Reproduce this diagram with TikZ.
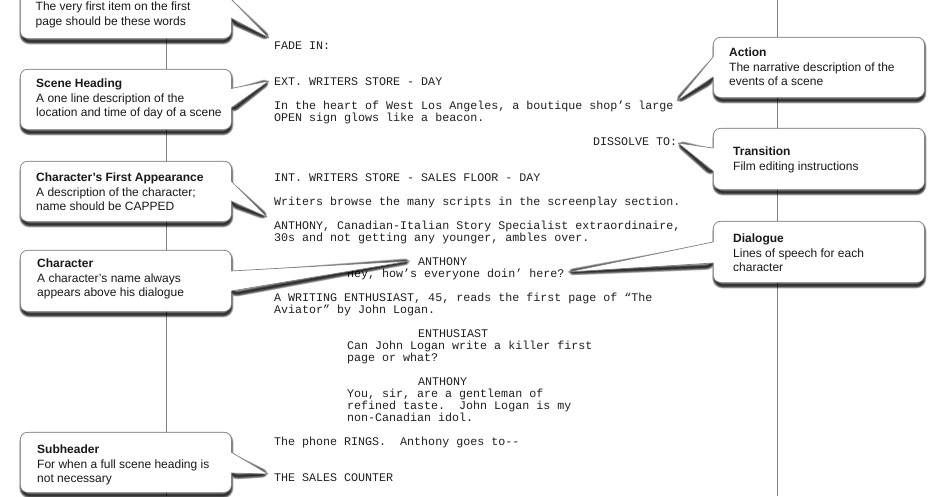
\documentclass[tikz,border=0pt]{standalone}
\usepackage{fontspec}
\setmainfont{Liberation Sans}
\newfontfamily\screenplayfont{Liberation Mono}
\pgfdeclarelayer{back}
\pgfsetlayers{back,main}
\tikzset{
  guide/.style={draw=black!50,line width=0.8pt},
  scriptline/.style={anchor=base west,inner sep=0pt,font=\fontsize{11.67}{12}\screenplayfont,text=black!88},
  calloutbox/.style={anchor=north west,draw=black!50,fill=white,line width=0.7pt,rounded corners=7pt,minimum width=211pt,inner sep=0pt},
  callouttext/.style={anchor=west,inner sep=0pt,align=left,text=black!90,font=\fontsize{12}{14.5}\selectfont},
  wedgeedge/.style={draw=black!50,line width=0.7pt,line join=round},
}
\newcommand{\shadowlayers}[1]{%
  \foreach \w in {0.3,1,1.7,2.4,3.1,3.8,4.5,5.2,5.9,6.6}{%
    \draw[black,opacity=0.17,line width=\w pt,line join=round] #1;
  }%
}
% id, (x,y), height, wedge top, wedge bottom, tip, text position, text
\newcommand{\callout}[8]{%
  \node[calloutbox,minimum height=#3 pt] (#1) at (#2) {};
  \coordinate (#1a) at (#4);
  \coordinate (#1b) at (#5);
  \coordinate (#1tip) at (#6);
  \begin{pgfonlayer}{back}
    \shadowlayers{[rounded corners=7pt] ([shift={(2.5,3)}]#1.north west) rectangle ([shift={(-1.5,2.5)}]#1.south east)
      ([shift={(0,4)}]#1a) -- ([shift={(0,0.3)}]#1tip) -- ([shift={(0,3.5)}]#1b) -- cycle}
  \end{pgfonlayer}
  \fill[white] (#1a) -- (#1tip) -- (#1b) -- cycle;
  \draw[white,line width=1.4pt] (#1a) -- (#1b);
  \draw[wedgeedge] (#1a) -- (#1tip) -- (#1b);
  \node[callouttext] (#1t) at (#7) {#8};
}
\begin{document}
\begin{tikzpicture}[x=1pt,y=-1pt]
\useasboundingbox (0,0) rectangle (944,496);
\begin{pgfonlayer}{back}
\coordinate (gl1) at (166.5,0); \coordinate (gl2) at (166.5,496);
\coordinate (gr1) at (777.5,0); \coordinate (gr2) at (777.5,496);
\draw[guide] (gl1) -- (gl2);
\draw[guide] (gr1) -- (gr2);
\node[scriptline] (s1) at (274,49) {FADE IN:};
\node[scriptline] (s2) at (274,85) {EXT. WRITERS STORE - DAY};
\node[scriptline] (s3) at (274,109) {In the heart of West Los Angeles, a boutique shop’s large};
\node[scriptline] (s4) at (274,121) {OPEN sign glows like a beacon.};
\node[scriptline] (s5) at (593,145) {DISSOLVE TO:};
\node[scriptline] (s6) at (274,181) {INT. WRITERS STORE - SALES FLOOR - DAY};
\node[scriptline] (s7) at (274,205) {Writers browse the many scripts in the screenplay section.};
\node[scriptline] (s8) at (274,229) {ANTHONY, Canadian-Italian Story Specialist extraordinaire,};
\node[scriptline] (s9) at (274,241) {30s and not getting any younger, ambles over.};
\node[scriptline] (s10) at (418,265) {ANTHONY};
\node[scriptline] (s11) at (347,277) {Hey, how’s everyone doin’ here?};
\node[scriptline] (s12) at (274,301) {A WRITING ENTHUSIAST, 45, reads the first page of “The};
\node[scriptline] (s13) at (274,313) {Aviator” by John Logan.};
\node[scriptline] (s14) at (418,337) {ENTHUSIAST};
\node[scriptline] (s15) at (347,349) {Can John Logan write a killer first};
\node[scriptline] (s16) at (347,361) {page or what?};
\node[scriptline] (s17) at (418,385) {ANTHONY};
\node[scriptline] (s18) at (347,397) {You, sir, are a gentleman of};
\node[scriptline] (s19) at (347,409) {refined taste.~~John Logan is my};
\node[scriptline] (s20) at (347,421) {non-Canadian idol.};
\node[scriptline] (s21) at (274,445) {The phone RINGS.~~Anthony goes to--};
\node[scriptline] (s22) at (274,481) {THE SALES COUNTER};
\end{pgfonlayer}
\callout{fade}{20,-22}{60}{231,-1}{231,18}{269,38}{35.5,15}{The very first item on the first\\page should be these words}
\callout{scene}{20,69}{60}{231,88.5}{231,108}{269,81}{36,99}{\textbf{Scene Heading}\\A one line description of the\\location and time of day of a scene}
\callout{first}{20,161}{60}{231,181}{231,201}{267,217}{36,192}{\textbf{Character’s First Appearance}\\A description of the character;\\name should be CAPPED}
\callout{char}{20,250}{61}{231,271}{231,291}{410,261}{37,279}{\textbf{Character}\\A character’s name always\\appears above his dialogue}
\callout{sub}{20,432}{60}{231,452}{231,473}{268,474}{37,465}{\textbf{Subheader}\\For when a full scene heading is\\not necessary}
\callout{action}{713,37}{60}{713,57}{713,77}{677,101}{729,67}{\textbf{Action}\\The narrative description of the\\events of a scene}
\callout{trans}{713,128}{61}{713,148}{713,171}{678,143}{733,160}{\textbf{Transition}\\Film editing instructions}
\callout{dial}{713,221}{61}{713,242}{713,263}{568,272}{733,253}{\textbf{Dialogue}\\Lines of speech for each\\character}
\end{tikzpicture}
\end{document}
